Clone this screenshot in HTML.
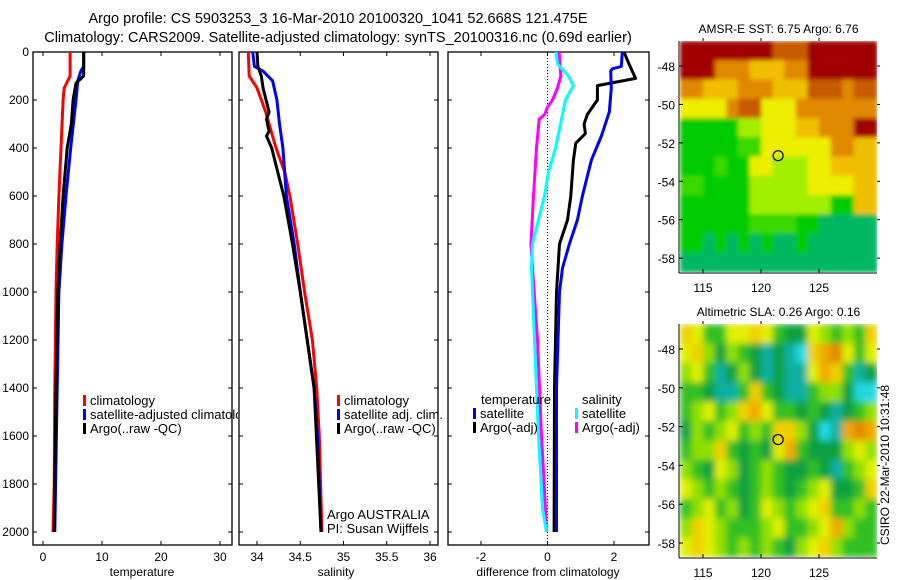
<!DOCTYPE html>
<html><head><meta charset="utf-8"><style>
body{margin:0;background:#fff;}
svg{display:block;font-family:"Liberation Sans",Arial,sans-serif;}
text{fill:#000;}
</style></head><body>
<svg id="fig" width="900" height="580" viewBox="0 0 900 580" xmlns="http://www.w3.org/2000/svg">
<defs>
<filter id="blurSla" x="-5%" y="-5%" width="110%" height="110%"><feGaussianBlur stdDeviation="3.5" edgeMode="duplicate"/></filter>
<filter id="blurSst" x="-5%" y="-5%" width="110%" height="110%"><feGaussianBlur stdDeviation="2" edgeMode="duplicate"/></filter>
<clipPath id="clipSst"><rect x="680" y="41" width="197" height="231"/></clipPath>
<clipPath id="clipSla"><rect x="680" y="324" width="197" height="233"/></clipPath>
<clipPath id="p1clip"><rect x="0" y="0" width="238" height="580"/></clipPath>
</defs>
<text x="338" y="23" font-size="14.5" text-anchor="middle">Argo profile: CS 5903253_3 16-Mar-2010 20100320_1041 52.668S 121.475E</text>
<text x="338" y="42" font-size="14.5" text-anchor="middle">Climatology: CARS2009. Satellite-adjusted climatology: synTS_20100316.nc (0.69d earlier)</text>
<g id="layer"></g>
</svg>
<script>
// ---- data ----
const depthTicks=[0,200,400,600,800,1000,1200,1400,1600,1800,2000];
const tTicks=[0,10,20,30];
const sTicks=[34,34.5,35,35.5,36];
const dTicks=[-2,0,2];
const tempClimDepth=[0,100,150,200,400,600,800,1000,1400,1800,2000];
const tempClim=[4.6,4.6,3.6,3.4,3.05,2.7,2.4,2.2,2.0,1.9,1.7];
const tempSatDepth=[0,60,80,120,200,400,600,800,1000,1400,2000];
const tempSat=[6.9,6.9,6.4,5.9,5.6,4.7,3.9,3.2,2.7,2.4,2.0];
const tempArgoDepth=[0,100,130,200,300,400,600,800,1000,1400,2000];
const tempArgo=[6.9,6.9,5.6,5.1,4.8,4.1,3.4,2.9,2.5,2.2,1.9];
const salClimDepth=[0,100,150,250,400,500,600,800,1000,1200,1400,1600,2000];
const salClim=[33.9,33.91,34.0,34.1,34.22,34.32,34.38,34.47,34.55,34.64,34.69,34.72,34.75];
const salSatDepth=[0,60,80,120,200,300,400,600,800,1000,1200,1400,1600,2000];
const salSat=[33.95,33.97,34.07,34.18,34.23,34.26,34.3,34.34,34.43,34.5,34.58,34.66,34.7,34.74];
const salArgoDepth=[0,60,100,150,250,280,330,350,400,600,800,1000,1200,1400,2000];
const salArgo=[34.0,34.01,34.05,34.07,34.14,34.11,34.14,34.11,34.17,34.31,34.41,34.5,34.58,34.66,34.74];
const dTempSatDepth=[0,60,70,80,150,250,350,450,600,700,800,900,1000,1400,2000];
const dTempSat=[2.25,2.22,1.95,1.9,1.92,1.86,1.62,1.32,1.05,0.9,0.66,0.45,0.36,0.27,0.27];
const dTempArgoDepth=[0,50,110,140,200,260,300,340,380,450,600,700,800,1000,1400,2000];
const dTempArgo=[2.3,2.45,2.65,1.5,1.5,1.2,1.1,1.14,0.85,0.78,0.7,0.6,0.36,0.27,0.21,0.2];
const dSalSatDepth=[0,50,100,140,200,300,400,500,600,800,900,1200,1600,1900,2000];
const dSalSat=[0.25,0.3,0.63,0.78,0.54,0.39,0.24,0.03,-0.09,-0.45,-0.48,-0.39,-0.27,-0.15,-0.03];
const dSalArgoDepth=[0,100,150,200,230,260,280,400,600,800,900,1200,1600,1900,2000];
const dSalArgo=[0.35,0.4,0.3,0.15,0.0,-0.08,-0.25,-0.33,-0.42,-0.5,-0.45,-0.3,-0.18,-0.06,-0.03];
const latTicks=[-48,-50,-52,-54,-56,-58];
const lonTicks=[115,120,125];
const sstGrid=[
"88888888777888888",
"88866655566888888",
"66555666555777677",
"44446774446666666",
"11111334445566688",
"11111224444446655",
"11121144333445555",
"22111133333444455",
"11111133333331155",
"11111122221100000",
"11010101001000000",
"00000000000000000"];
const slaGrid=[
"65335565322543436",
"56424321210678535",
"45312421211576312",
"33211363211344200",
"34534675332321234",
"24345343664201787",
"34463232573222454",
"43254234322321345",
"54343234323452236",
"34534235434563343",
"46543334533457433",
"56543434324564333"];
const argoLon=121.475, argoLat=-52.668;
// ---- helpers ----
const NS="http://www.w3.org/2000/svg";
const layer=document.getElementById('layer');
function mk(tag,attrs,parent){const e=document.createElementNS(NS,tag);for(const k in attrs)e.setAttribute(k,attrs[k]);(parent||layer).appendChild(e);return e;}
const Y0=52,Y1=545;
const yD=d=>Y0+d*0.24;
function lin(d0,d1,r0,r1){return v=>r0+(v-d0)*(r1-r0)/(d1-d0);}
const xT=lin(0,30,43,220), xS=lin(34,36,257,430), xDf=lin(-2,2,481,614);
function panel(x0,x1,name){
  const r=mk('rect',{x:x0,y:Y0,width:x1-x0,height:Y1-Y0,fill:'none',stroke:'#000','stroke-width':1.3});
  
  
  depthTicks.forEach(d=>{const y=yD(d);
    mk('line',{x1:x0,x2:x0+4,y1:y,y2:y,stroke:'#000'});
    mk('line',{x1:x1,x2:x1-4,y1:y,y2:y,stroke:'#000'});});
}
function xticks(ticks,f,fmt,name){ticks.forEach(v=>{const x=f(v);
  mk('line',{x1:x,x2:x,y1:Y1,y2:Y1-4,stroke:'#000'});
  mk('line',{x1:x,x2:x,y1:Y0,y2:Y0+4,stroke:'#000'});
  const t=mk('text',{x:x,y:561,'font-size':12,'text-anchor':'middle'});t.textContent=fmt(v);
  
  });}
function line(ds,vs,f,color,name){
  const pts=ds.map((d,i)=>f(vs[i]).toFixed(1)+','+yD(d).toFixed(1)).join(' ');
  const p=mk('polyline',{points:pts,fill:'none',stroke:color,'stroke-width':3,'stroke-linejoin':'round'});
  
  
}
function label(x,y,txt,name,size,anchor,parent){const t=mk('text',{x:x,y:y,'font-size':size||12,'text-anchor':anchor||'start'},parent);t.textContent=txt;
  
  return t;}
// panel 1
panel(33,232,'temperature-panel');
depthTicks.forEach(d=>{label(29,yD(d)+4,String(d),'depth-tick-label',12,'end');});
xticks(tTicks,xT,v=>String(v),'temperature-tick-label');
label(142,576,'temperature','temperature-axis-title',12,'middle');
line(tempClimDepth,tempClim,xT,'#ff0000','temp-climatology-line');
line(tempSatDepth,tempSat,xT,'#0000ff','temp-satellite-line');
line(tempArgoDepth,tempArgo,xT,'#000000','temp-argo-line');
// panel 2
panel(239,438,'salinity-panel');
xticks(sTicks,xS,v=>String(v),'salinity-tick-label');
label(336,576,'salinity','salinity-axis-title',12,'middle');
line(salClimDepth,salClim,xS,'#ff0000','sal-climatology-line');
line(salSatDepth,salSat,xS,'#0000ff','sal-satellite-line');
line(salArgoDepth,salArgo,xS,'#000000','sal-argo-line');
// panel 3
panel(448,649,'difference-panel');
const zl=mk('line',{x1:xDf(0),x2:xDf(0),y1:Y0,y2:Y1,stroke:'#000','stroke-dasharray':'1,2'});


xticks(dTicks,xDf,v=>String(v),'difference-tick-label');
label(548,576,'difference from climatology','difference-axis-title',12,'middle');
line(dSalArgoDepth,dSalArgo,xDf,'#ff00ff','sal-argo-diff-line');
line(dSalSatDepth,dSalSat,xDf,'#00ffff','sal-satellite-diff-line');
line(dTempArgoDepth,dTempArgo,xDf,'#000000','temp-argo-diff-line');
line(dTempSatDepth,dTempSat,xDf,'#0000ff','temp-satellite-diff-line');
// legends
function legend(x,y,color,txt,name,clip){
  const b=mk('rect',{x:x,y:y-9,width:3,height:11,fill:color});
  
  
  const t=label(x+7,y+1,txt,name,13);
  if(clip)t.setAttribute('clip-path','url(#p1clip)');
}
legend(83,404,'#ff0000','climatology','legend-climatology',true);
legend(83,418,'#0000ff','satellite-adjusted climatology','legend-satellite-adjusted',true);
legend(83,432,'#000000','Argo(..raw -QC)','legend-argo-raw',true);
legend(337,404,'#ff0000','climatology','legend2-climatology');
legend(337,418,'#0000ff','satellite adj. clim.','legend2-satellite');
legend(337,432,'#000000','Argo(..raw -QC)','legend2-argo');
label(327,519,'Argo AUSTRALIA','argo-australia-label',13);
label(327,533,'PI: Susan Wijffels','pi-label',13);
label(481,404,'temperature','legend-temperature-heading',13);
label(582,404,'salinity','legend-salinity-heading',13);
legend(473,417,'#0000ff','satellite','legend-temp-satellite');
legend(473,431,'#000000','Argo(-adj)','legend-temp-argo');
legend(575,417,'#00ffff','satellite','legend-sal-satellite');
legend(575,431,'#ff00ff','Argo(-adj)','legend-sal-argo');
// maps
const sstColors=['#00b860','#00cc00','#3ad800','#a0ee00','#eeee00','#f0c000','#e08800','#c85a00','#a00000'];
const slaColors=['#20d8e0','#10b0a0','#10a040','#30c020','#90e000','#e0f000','#f0d000','#f0a800','#e08800'];
function map(top,bottom,grid,colors,title,name,filt,clip){
  const L=680,R=877;
  const lon=lin(115,125,703,819);
  const lat=lin(-48,-58,top+25,top+(bottom-top)*0.94);
  const g=mk('g',{});
  
  const cg=mk('g',{'clip-path':'url(#'+clip+')'},g);
  const img=mk('g',{filter:'url(#'+filt+')'},cg);
  const rows=grid.length,cols=grid[0].length,cw=(R-L)/cols,ch=(bottom-top)/rows;
  grid.forEach((row,i)=>{for(let j=0;j<cols;j++){
    mk('rect',{x:(L+j*cw).toFixed(2),y:(top+i*ch).toFixed(2),width:(cw+0.6).toFixed(2),height:(ch+0.6).toFixed(2),fill:colors[+row[j]]},img);}});
  mk('line',{x1:L-1,x2:L-1,y1:top,y2:bottom+1,stroke:'#000'},g);
  mk('line',{x1:L-1,x2:R,y1:bottom+1,y2:bottom+1,stroke:'#000'},g);
  latTicks.forEach(v=>{const y=lat(v);
    mk('line',{x1:L-1,x2:L+3,y1:y,y2:y,stroke:'#000'},g);
    mk('line',{x1:R,x2:R+3,y1:y,y2:y,stroke:'#000'},g);
    label(L-5,y+5,String(v),name+'-lat-label',12,'end',g);});
  lonTicks.forEach(v=>{const x=lon(v);
    mk('line',{x1:x,x2:x,y1:bottom+1,y2:bottom-3,stroke:'#000'},g);
    mk('line',{x1:x,x2:x,y1:top,y2:top-3,stroke:'#000'},g);
    label(x,bottom+20,String(v),name+'-lon-label',12,'middle',g);});
  label((L+R)/2,top-8,title,name+'-title',12,'middle',g);
  const c=mk('circle',{cx:lon(argoLon),cy:lat(argoLat),r:5,fill:'none',stroke:'#000','stroke-width':1.2},g);
  
  
}
map(41,272,sstGrid,sstColors,'AMSR-E SST: 6.75 Argo: 6.76','sst-map','blurSst','clipSst');
map(324,557,slaGrid,slaColors,'Altimetric SLA: 0.26 Argo: 0.16','sla-map','blurSla','clipSla');
const ts=label(0,0,'CSIRO 22-Mar-2010 10:31:48','timestamp-label',12,'middle');
ts.setAttribute('transform','translate(889,465) rotate(-90)');
</script>
</body></html>
